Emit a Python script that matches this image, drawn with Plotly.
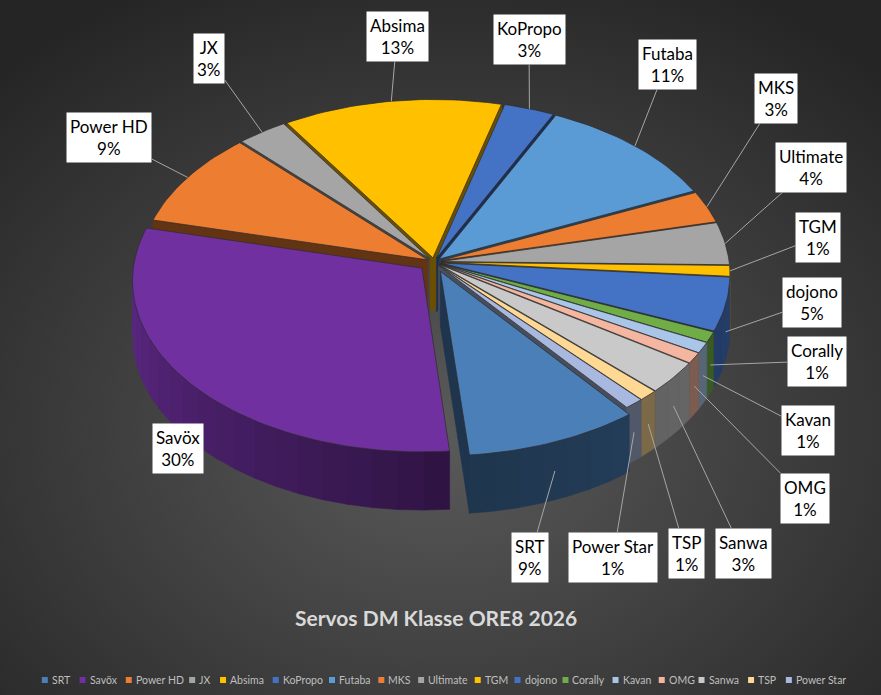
import base64
import numpy as np
import plotly.graph_objects as go

# ---------------- data ----------------
brands = ["SRT", "Savöx", "Power HD", "JX", "Absima", "KoPropo", "Futaba", "MKS",
          "Ultimate", "TGM", "dojono", "Corally", "Kavan", "OMG", "Sanwa", "TSP", "Power Star"]
shares = [9, 30, 9, 3, 13, 3, 11, 3, 4, 1, 5, 1, 1, 1, 3, 1, 1]
colors = ["#4a7fb8", "#7030a0", "#ed7d31", "#a5a5a5", "#ffc000", "#4472c4", "#5b9bd5", "#ed7d31",
          "#a5a5a5", "#ffc000", "#4472c4", "#70ad47", "#a9c6e8", "#f4b6a0", "#c9c9c9", "#ffd994", "#a9b8de"]
chart_title = "Servos DM Klasse ORE8 2026"

# ---------------- layout parameters (pixels) ----------------
W, H = 881, 695
CX, CY = 434, 262          # pie centre on screen
RX, RY = 288, 170          # radii of the tilted disc
PERSP = 0.07               # perspective strength
DEPTH = 54                 # thickness of the pie
START = 142                # angle (deg, clockwise from 12 o'clock) where first slice starts
PULL = {"Savöx": 0.055, "SRT": 0.06}
PULL_DEFAULT = 0.025
LABEL_POS = {
    "SRT": (530, 557), "Savöx": (178, 448), "Power HD": (109, 137), "JX": (209, 58),
    "Absima": (397, 36), "KoPropo": (529, 39), "Futaba": (667, 64), "MKS": (776, 98),
    "Ultimate": (811, 167), "TGM": (818, 237), "dojono": (812, 302), "Corally": (817, 361),
    "Kavan": (808, 430), "OMG": (805, 498), "Sanwa": (743, 553), "TSP": (686, 553),
    "Power Star": (613, 557),
}
LEGEND_Y = 680
LEGEND_CX = 444


def proj(u, v, h):
    w = 1 - PERSP * v
    return CX + RX * u / w, CY + RY * v / w + h * DEPTH / w


def darker(hexc, f):
    hexc = hexc.lstrip("#")
    r, g, b = (int(hexc[i:i + 2], 16) for i in (0, 2, 4))
    return "rgb(%d,%d,%d)" % (r * f, g * f, b * f)


def wall_factor(t):
    t = t % 360
    if t >= 180:
        return 0.45 + 0.40 * min(1.0, (t - 180) / 90)
    return 0.42 + 0.14 * min(1.0, (180 - t) / 90)


total = float(sum(shares))
spans = np.array(shares) / total * 360.0
starts = START + np.concatenate([[0], np.cumsum(spans)[:-1]])
ends = starts + spans

sides = []
tops = []
tips = {}
for name, col, a0, a1 in zip(brands, colors, starts, ends):
    tm = np.radians((a0 + a1) / 2)
    q = PULL.get(name, PULL_DEFAULT)
    ou, ov = q * np.sin(tm), -q * np.cos(tm)

    def rim(t_deg, h):
        t = np.radians(t_deg)
        return proj(ou + np.sin(t), ov - np.cos(t), h)

    def apex(h):
        return proj(ou, ov, h)

    # top face
    ts = np.linspace(a0, a1, max(4, int((a1 - a0) / 1.5) + 2))
    pts = [apex(0)] + [rim(t, 0) for t in ts] + [apex(0)]
    tops.append((name, col, [p[0] for p in pts], [p[1] for p in pts]))

    # outer wall (front half only)
    for k in (0, 1):
        lo, hi = max(a0, 90 + 360 * k), min(a1, 270 + 360 * k)
        if hi > lo:
            nseg = max(1, int(np.ceil((hi - lo) / 5)))
            edges = np.linspace(lo, hi, nseg + 1)
            for s0, s1 in zip(edges[:-1], edges[1:]):
                ss = np.linspace(s0, s1, 5)
                top_pts = [rim(s, 0) for s in ss]
                bot_pts = [rim(s, 1) for s in ss[::-1]]
                poly = top_pts + bot_pts + [top_pts[0]]
                sm = np.radians((s0 + s1) / 2)
                key = ov - np.cos(sm)
                c = darker(col, wall_factor((s0 + s1) / 2))
                sides.append((key, [p[0] for p in poly], [p[1] for p in poly], c))

    # radial cut faces
    for t_deg, vis in ((a0, np.sin(np.radians(a0)) < 0), (a1, np.sin(np.radians(a1)) > 0)):
        if vis:
            poly = [apex(0), rim(t_deg, 0), rim(t_deg, 1), apex(1), apex(0)]
            key = ov - 0.5 * np.cos(np.radians(t_deg))
            sides.append((key, [p[0] for p in poly], [p[1] for p in poly], darker(col, 0.42)))

    # leader-line tip
    front = -np.cos(tm) > 0.2
    tips[name] = rim(np.degrees(tm), 0.5 if front else 0.0)

fig = go.Figure()
sides.sort(key=lambda s: s[0])
for key, xs, ys, c in sides:
    fig.add_trace(go.Scatter(x=xs, y=ys, mode="lines", fill="toself", fillcolor=c,
                             line=dict(color=c, width=0.6), hoverinfo="skip", showlegend=False))
for name, col, xs, ys in tops:
    fig.add_trace(go.Scatter(x=xs, y=ys, mode="lines", fill="toself", fillcolor=col,
                             line=dict(color="rgba(45,45,45,0.9)", width=0.8),
                             name=name, hoveron="fills", showlegend=False))

# data labels
annotations = []
for name, s in zip(brands, shares):
    pct = int(round(s / total * 100))
    lx, ly = LABEL_POS[name]
    tx, ty = tips[name]
    common = dict(text=f"{name}<br>{pct}%", bgcolor="white", borderpad=3,
                  font=dict(family="Lato", size=17, color="#000000"), align="center")
    if name == "Savöx":
        annotations.append(dict(x=lx, y=ly, xref="x", yref="y", showarrow=False, **common))
    else:
        annotations.append(dict(x=tx, y=ty, xref="x", yref="y", ax=lx, ay=ly, axref="x", ayref="y",
                                showarrow=True, arrowhead=0, arrowwidth=1, arrowcolor="#a6a6a6",
                                standoff=0, **common))


# custom one-row legend
def text_w(s, size):
    w = 0.0
    for ch in s:
        if ch == " ":
            w += 0.23
        elif ch in "iljtfr":
            w += 0.30
        elif ch in "mwMW":
            w += 0.85
        elif ch.isupper():
            w += 0.66
        else:
            w += 0.53
    return w * size


LEG_FS = 10.5
SYM, GAP, SPACING = 6, 3, 8
widths = [SYM + GAP + text_w(b, LEG_FS) + SPACING for b in brands]
total_w = sum(widths) - SPACING
x0 = LEGEND_CX - total_w / 2
sym_x = []
cur = x0
for wdt in widths:
    sym_x.append(cur + SYM / 2)
    cur += wdt
fig.add_trace(go.Scatter(x=sym_x, y=[LEGEND_Y] * len(brands), mode="markers",
                         marker=dict(symbol="square", size=SYM, color=colors, line=dict(width=0)),
                         hoverinfo="skip", showlegend=False))
for b, sx in zip(brands, sym_x):
    annotations.append(dict(x=sx + SYM / 2 + GAP - 1, y=LEGEND_Y, xref="x", yref="y", text=b,
                            showarrow=False, xanchor="left", yanchor="middle",
                            font=dict(family="Lato", size=LEG_FS, color="#bfbfbf")))

# background radial gradient
svg = ('<svg xmlns="http://www.w3.org/2000/svg" width="881" height="695">'
       '<defs><radialGradient id="g" cx="50%" cy="62%" r="72%">'
       '<stop offset="0" stop-color="#5a5a5a"/><stop offset="1" stop-color="#252525"/>'
       '</radialGradient></defs><rect width="881" height="695" fill="url(#g)"/></svg>')
bg_src = "data:image/svg+xml;base64," + base64.b64encode(svg.encode()).decode()

fig.update_layout(
    width=W, height=H,
    margin=dict(l=0, r=0, t=0, b=0),
    paper_bgcolor="#404040", plot_bgcolor="rgba(0,0,0,0)",
    xaxis=dict(range=[0, W], visible=False, fixedrange=True, domain=[0, 1]),
    yaxis=dict(range=[H, 0], visible=False, fixedrange=True, domain=[0, 1]),
    showlegend=False,
    annotations=annotations,
    images=[dict(source=bg_src, xref="paper", yref="paper", x=0, y=1, sizex=1, sizey=1,
                 sizing="stretch", layer="below", xanchor="left", yanchor="top")],
    title=dict(text="<b>" + chart_title + "</b>", x=0.495, xanchor="center",
               y=1 - 619 / 695, yanchor="middle",
               font=dict(family="Lato", size=21, color="#d9d9d9")),
)

fig.write_html("out.html", config={"displayModeBar": False},
               post_script="document.body.style.margin='0px';")
